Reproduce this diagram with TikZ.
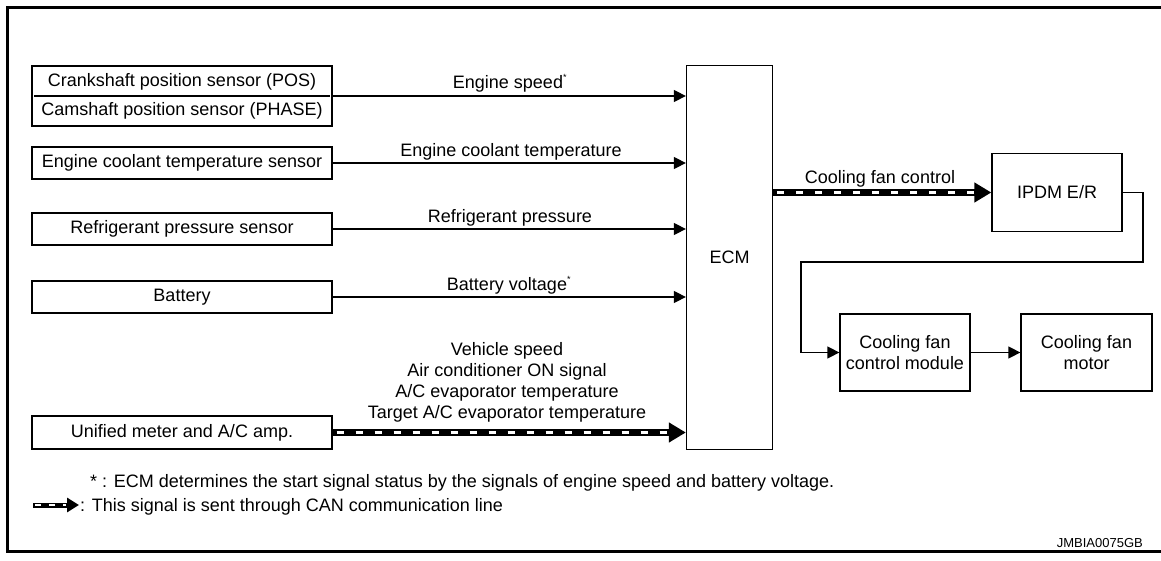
\documentclass[tikz,border=0pt]{standalone}
\usepackage{fontspec}
\setmainfont{Liberation Sans}
\usetikzlibrary{arrows.meta}
\begin{document}
\begin{tikzpicture}[x=1pt,y=-1pt,
  font=\fontsize{18}{21}\selectfont,
  box/.style={draw, line width=1.3pt, inner sep=0pt, align=center},
  sig/.style={line width=1.4pt, -{Triangle[length=12pt,width=12pt]}},
  can/.style={line width=6.5pt, -{Triangle[length=17pt,width=19pt]},
    postaction={draw=white, line width=2.6pt, -, dash pattern=on 7pt off 12pt,
      dash phase=-3pt, shorten >=17pt, shorten <=1pt}},
  lbl/.style={inner sep=0pt, anchor=base},
]
\newcommand{\smallstar}{\makebox[0pt][l]{\raisebox{8pt}{\fontsize{9}{9}\selectfont *}}}
\useasboundingbox (0,0) rectangle (1161,561);
% frame
\draw[line width=3pt] (1161,7.5) -- (7.5,7.5) -- (7.5,551) -- (1161,551);

% input boxes
\node[box, minimum width=300pt, minimum height=60pt] (cam) at (182,96) {};
\node[inner sep=0pt] (crank) at (182,81.5) {Crankshaft position sensor (POS)};
\node[inner sep=0pt] (camt) at (182,111) {Camshaft position sensor (PHASE)};
\draw[line width=1.3pt] ([xshift=3pt]cam.west) -- ([xshift=-3pt]cam.east);
\node[box, minimum width=300pt, minimum height=32pt] (ect) at (182,163) {Engine coolant temperature sensor};
\node[box, minimum width=300pt, minimum height=32pt] (ref) at (182,229) {Refrigerant pressure sensor};
\node[box, minimum width=300pt, minimum height=32pt] (bat) at (182,297) {Battery};
\node[box, minimum width=300pt, minimum height=33pt] (uni) at (182,432.5) {Unified meter and A/C amp.};

% ECM
\node[box, minimum width=86pt, minimum height=384pt] (ecm) at (729.5,257.5) {ECM};

% output side
\node[box, minimum width=130pt, minimum height=78pt] (ipdm) at (1057,192.5) {IPDM E/R};
\node[box, minimum width=130pt, minimum height=77pt] (cfcm) at (905,352.5) {Cooling fan\\control module};
\node[box, minimum width=131pt, minimum height=77pt] (cfm) at (1086.5,352.5) {Cooling fan\\motor};

% input signals
\draw[sig] (cam.east) -- (cam.east -| ecm.west);
\node[lbl] (l1) at (508,89) {Engine speed\smallstar};
\draw[sig] (ect.east) -- (ect.east -| ecm.west);
\node[lbl] (l2) at (511,157) {Engine coolant temperature};
\draw[sig] (ref.east) -- (ref.east -| ecm.west);
\node[lbl] (l3) at (510,223) {Refrigerant pressure};
\draw[sig] (bat.east) -- (bat.east -| ecm.west);
\node[lbl] (l4) at (507,290) {Battery voltage\smallstar};
\draw[can] (uni.east) -- (uni.east -| ecm.west);
\node[inner sep=0pt, anchor=south, align=center] (l5) at (507,422)
  {Vehicle speed\\Air conditioner ON signal\\A/C evaporator temperature\\Target A/C evaporator temperature};

% outputs
\draw[can] (ecm.east |- ipdm.west) -- (ipdm.west);
\node[lbl] (l6) at (880,184) {Cooling fan control};
\coordinate (c1) at (1143,192.5);
\coordinate (c2) at (801,262);
\draw[sig] (ipdm.east) -- (c1) |- (c2) |- (cfcm.west);
\draw[sig] (cfcm.east) -- (cfm.west);

% legend
\node[inner sep=0pt, anchor=base west] (n1) at (90,487)
  {* : ECM determines the start signal status by the signals of engine speed and battery voltage.};
\coordinate (i1) at (33,505);
\coordinate (i2) at (79,505);
\draw[line width=5pt, -{Triangle[length=12pt,width=14pt]},
  postaction={draw=white, line width=2pt, -, dash pattern=on 6pt off 8pt, dash phase=-2pt, shorten >=13pt}] (i1) -- (i2);
\node[inner sep=0pt, anchor=base west] (n2) at (80,511) {: This signal is sent through CAN communication line};
\node[inner sep=0pt, anchor=base east, font=\fontsize{13}{13}\selectfont] (code) at (1143,547) {JMBIA0075GB};
\end{tikzpicture}
\end{document}
